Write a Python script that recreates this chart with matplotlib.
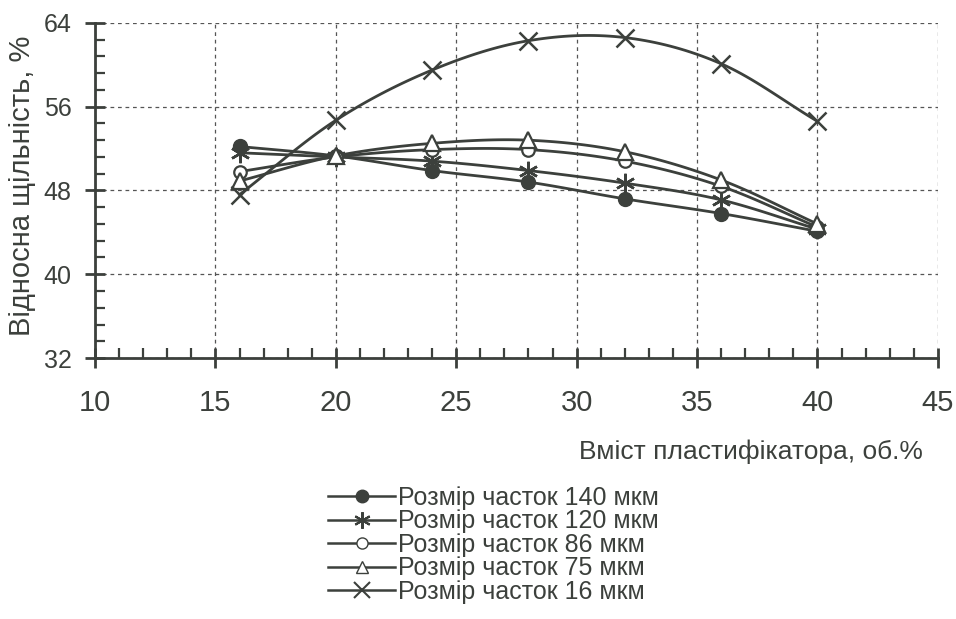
"""Relative density vs plasticizer content for several particle sizes."""

import numpy as np
import matplotlib
matplotlib.use("Agg")
import matplotlib.pyplot as plt
from matplotlib.ticker import MultipleLocator

# data
plasticizer = [16, 20, 24, 28, 32, 36, 40]
size_140 = [52.2, 51.3, 49.9, 48.8, 47.2, 45.8, 44.1]
size_120 = [51.6, 51.2, 50.8, 49.9, 48.7, 47.1, 44.3]
size_86 = [49.8, 51.2, 51.9, 51.9, 50.8, 48.4, 44.5]
size_75 = [48.9, 51.3, 52.5, 52.8, 51.7, 49.0, 44.8]
size_16 = [47.6, 54.7, 59.5, 62.3, 62.6, 60.1, 54.6]
labels = ["Розмір часток 140 мкм", "Розмір часток 120 мкм",
          "Розмір часток 86 мкм", "Розмір часток 75 мкм",
          "Розмір часток 16 мкм"]

INK = "#3c403c"
plt.rcParams['font.family'] = ['Liberation Sans', 'DejaVu Sans']


def smooth(x, y, n=20):
    """Catmull-Rom curve through the points (for drawing only)."""
    x = np.asarray(x, float)
    y = np.asarray(y, float)
    px = np.concatenate([[2 * x[0] - x[1]], x, [2 * x[-1] - x[-2]]])
    py = np.concatenate([[2 * y[0] - y[1]], y, [2 * y[-1] - y[-2]]])
    t = np.linspace(0, 1, n)
    xs, ys = [], []
    for i in range(1, len(px) - 2):
        for arr, out in ((px, xs), (py, ys)):
            p0, p1, p2, p3 = arr[i - 1], arr[i], arr[i + 1], arr[i + 2]
            out.extend(0.5 * ((2 * p1) + (-p0 + p2) * t
                              + (2 * p0 - 5 * p1 + 4 * p2 - p3) * t ** 2
                              + (-p0 + 3 * p1 - 3 * p2 + p3) * t ** 3))
    return np.array(xs), np.array(ys)


fig = plt.figure(figsize=(9.56, 6.19), dpi=100)
ax = fig.add_axes([0.0994, 0.4216, 0.8816, 0.5414])

series = [size_140, size_120, size_86, size_75, size_16]
markers = [
    dict(marker='o', markersize=10, markerfacecolor=INK),
    dict(marker=(6, 2, 0), markersize=14, markeredgewidth=1.8),
    dict(marker='o', markersize=9, markerfacecolor='white', markeredgewidth=1.6),
    dict(marker='^', markersize=11, markerfacecolor='white', markeredgewidth=1.6),
    dict(marker='x', markersize=13, markeredgewidth=1.8),
]
legend_markers = [
    dict(marker='o', markersize=9, markerfacecolor=INK),
    dict(marker=(6, 2, 0), markersize=12, markeredgewidth=1.5),
    dict(marker='o', markersize=8, markerfacecolor='white'),
    dict(marker='^', markersize=9, markerfacecolor='white'),
    dict(marker='x', markersize=11, markeredgewidth=1.5),
]
for vals, mk, lmk, lab in zip(series, markers, legend_markers, labels):
    sx, sy = smooth(plasticizer, vals)
    ax.plot(sx, sy, color=INK, lw=2.0, zorder=3)
    ax.plot(plasticizer, vals, ls='none', color=INK, markeredgecolor=INK,
            zorder=4, **mk)
    ax.plot([], [], color=INK, lw=1.8, markeredgecolor=INK, label=lab, **lmk)

ax.set_xlim(10, 45)
ax.set_ylim(32, 64)
ax.xaxis.set_major_locator(MultipleLocator(5))
ax.xaxis.set_minor_locator(MultipleLocator(1))
ax.yaxis.set_major_locator(MultipleLocator(8))
ax.yaxis.set_minor_locator(MultipleLocator(1.6))
ax.grid(True, which='major', color='#555555', lw=0.9, ls=(0, (3, 3)))
for side in ('top', 'right'):
    ax.spines[side].set_visible(False)
for side in ('left', 'bottom'):
    ax.spines[side].set_color(INK)
    ax.spines[side].set_linewidth(2.0)
ax.tick_params(which='major', direction='inout', length=14, width=2.0,
               colors=INK)
ax.tick_params(which='minor', direction='in', length=7, width=1.6, colors=INK)
ax.tick_params(axis='x', which='major', pad=15, labelsize=21)
ax.tick_params(axis='y', which='major', pad=10, labelsize=18)

fig.text(0.023, 0.70, "Відносна щільність, %", rotation=90, ha='center',
         va='center', fontsize=21, color=INK)
fig.text(0.965, 0.27, "Вміст пластифікатора, об.%", ha='right', va='center',
         fontsize=19, color=INK)

leg = fig.legend(loc='upper left', bbox_to_anchor=(0.343, 0.215), frameon=False,
                 fontsize=18, handlelength=2.7, handletextpad=0.1,
                 labelspacing=-0.02, borderaxespad=0, borderpad=0)
for t in leg.get_texts():
    t.set_color(INK)

fig.savefig("out.png", dpi=100)
plt.close(fig)
